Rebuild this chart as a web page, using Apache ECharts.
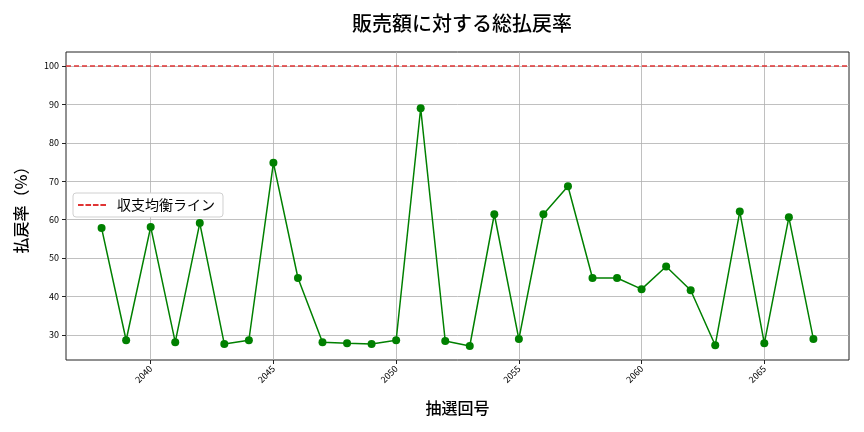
<!DOCTYPE html>
<html><head><meta charset="utf-8">
<script src="https://cdn.jsdelivr.net/npm/echarts@6/dist/echarts.min.js"></script>
<style>html,body{margin:0;padding:0;background:#fff}#c{width:864px;height:432px}</style>
</head><body><div id="c"></div>
<script>
const draws = [2038,2039,2040,2041,2042,2043,2044,2045,2046,2047,2048,2049,2050,2051,2052,2053,2054,2055,2056,2057,2058,2059,2060,2061,2062,2063,2064,2065,2066,2067];
const payoutRate = [57.8,28.6,58.1,28.1,59.1,27.6,28.6,74.8,44.8,28.1,27.8,27.6,28.6,89.0,28.4,27.1,61.4,28.9,61.4,68.7,44.8,44.8,41.9,47.8,41.6,27.3,62.1,27.8,60.6,28.9];
const breakEven = 100;
const xTicks = [2040,2045,2050,2055,2060,2065];
const yTicks = [30,40,50,60,70,80,90,100];

const FONT = '"Noto Sans CJK JP","Noto Sans",sans-serif';
const chart = echarts.init(document.getElementById('c'), null, {renderer:'canvas'});
const xs = draws.map((d,i)=>[d,payoutRate[i]]);
const xmin = Math.min(...draws), xmax = Math.max(...draws);
const xpad = (xmax-xmin)*0.05;
const ymin = Math.min(...payoutRate), ymax = breakEven;
const ypad = (ymax-ymin)*0.05;
const RED = '#e03434';
chart.setOption({
  animation:false,
  backgroundColor:'#fff',
  title:{text:'販売額に対する総払戻率', left:457, textAlign:'center', top:8,
    textStyle:{fontFamily:FONT, fontSize:20, fontWeight:500, color:'#000'}},
  grid:{left:66, right:15, top:52, bottom:72, show:true, borderColor:'#222', borderWidth:1, backgroundColor:'transparent'},
  legend:{left:73, top:193, orient:'vertical',
    data:[{name:'収支均衡ライン', icon:'path://M0,0h6v2h-6zM8,0h6v2h-6zM16,0h6v2h-6zM24,0h6v2h-6z', itemStyle:{color:RED}}],
    itemWidth:28, itemHeight:2, padding:[5,8,5,5], itemGap:4,
    backgroundColor:'#fff', borderColor:'#d0d0d0', borderWidth:1, borderRadius:3,
    textStyle:{fontFamily:FONT, fontSize:14, color:'#000', padding:[0,0,0,6]}},
  xAxis:{type:'value', min:xmin-xpad, max:xmax+xpad,
    name:'抽選回号', nameLocation:'middle', nameGap:40,
    nameTextStyle:{fontFamily:FONT, fontSize:16, fontWeight:500, color:'#000'},
    axisLine:{show:false},
    axisTick:{show:true, customValues:xTicks, length:4, lineStyle:{color:'#222'}},
    axisLabel:{customValues:xTicks, rotate:45, fontFamily:FONT, fontSize:9, color:'#000', margin:7,
      formatter:v=>String(v)},
    splitLine:{show:true, lineStyle:{color:'#b0b0b0', width:0.8}}},
  yAxis:{type:'value', min:ymin-ypad, max:ymax+ypad,
    name:'払戻率（%）', nameLocation:'middle', nameGap:37, nameRotate:90,
    nameTextStyle:{fontFamily:FONT, fontSize:16, fontWeight:500, color:'#000'},
    axisLine:{show:false},
    axisTick:{show:true, customValues:yTicks, length:4, lineStyle:{color:'#222'}},
    axisLabel:{customValues:yTicks, fontFamily:FONT, fontSize:9, color:'#000', margin:7,
      formatter:v=>String(v)},
    splitLine:{show:true, lineStyle:{color:'#b0b0b0', width:0.8}}},
  series:[
    {name:'払戻率', type:'line', data:xs, symbol:'circle', symbolSize:8,
      itemStyle:{color:'#008000'}, lineStyle:{color:'#008000', width:1.5}, z:3},
    {name:'収支均衡ライン', type:'line', data:[], symbol:'none',
      itemStyle:{color:RED},
      lineStyle:{color:RED, type:'dashed', width:1.5},
      markLine:{silent:true, symbol:'none', label:{show:false},
        lineStyle:{color:RED, type:[5,3], width:1.5},
        data:[{yAxis:breakEven}]}}
  ]
});
</script></body></html>
